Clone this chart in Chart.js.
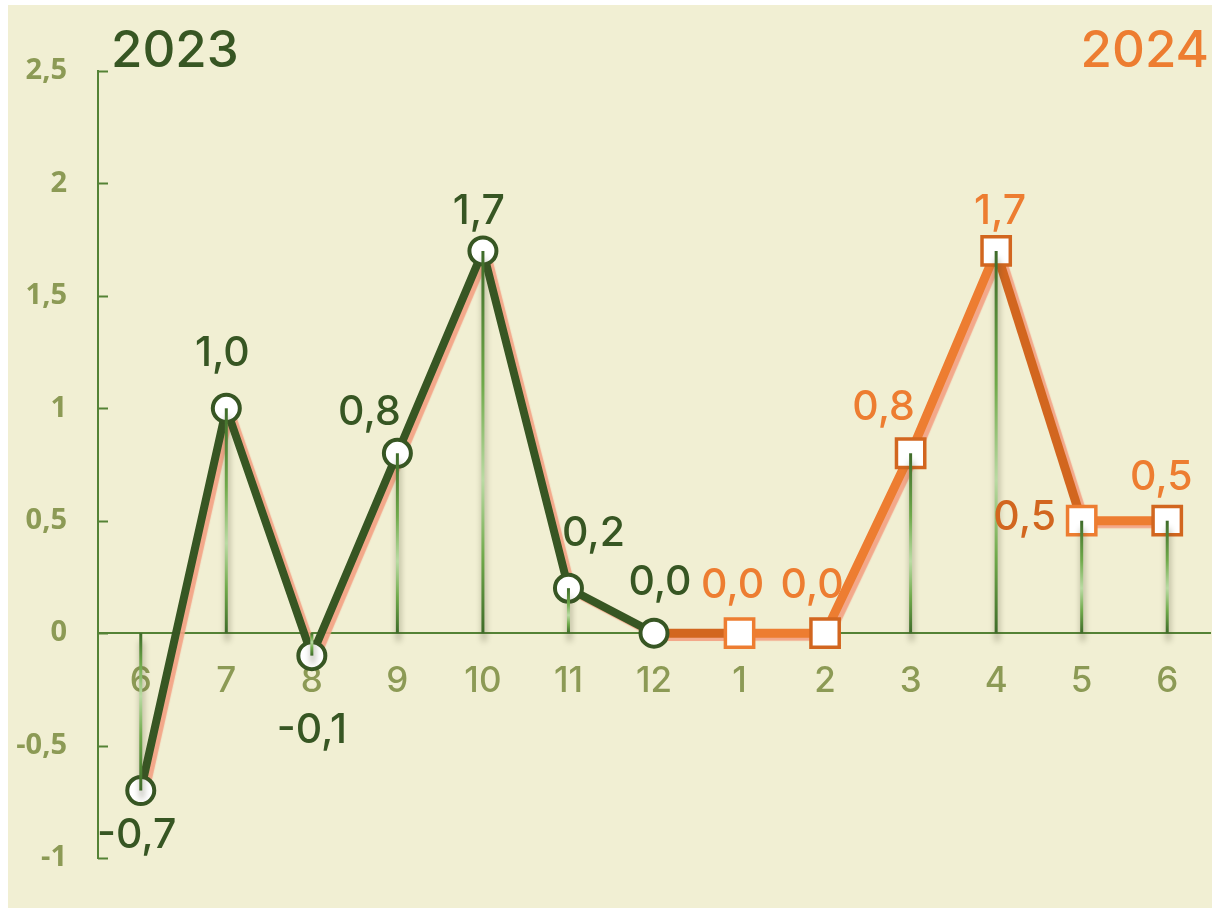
<!DOCTYPE html>
<html>
<head>
<meta charset="utf-8">
<script src="https://cdn.jsdelivr.net/npm/chart.js@4.4.1/dist/chart.umd.min.js"></script>
<style>
  html, body { margin: 0; padding: 0; background: #ffffff; }
  #wrap { position: relative; width: 1212px; height: 910px; }
</style>
</head>
<body>
<div id="wrap"><canvas id="myChart" width="1212" height="910"></canvas></div>
<script>
// months on the x axis (June 2023 .. June 2024)
const months = ['6', '7', '8', '9', '10', '11', '12', '1', '2', '3', '4', '5', '6'];

// 2023 series
const values2023 = [-0.7, 1.0, -0.1, 0.8, 1.7, 0.2, 0.0, null, null, null, null, null, null];

// 2024 series (starts at the December point so both lines join)
const values2024 = [null, null, null, null, null, null, 0.0, 0.0, 0.0, 0.8, 1.7, 0.5, 0.5];

// y axis tick values
const yTicks = [-1, -0.5, 0, 0.5, 1, 1.5, 2, 2.5];

// colours
const green = "#375623";
const orange = "#ED7D31";
const orangeDark = "#D2661F";
const olive = "#8C9A55";
const axisGreen = "#548235";
const cream = "#F1EFD3";

// orange line: colour of each segment and each square border
const orangeSegColors = [null, null, null, null, null, null, orangeDark, orange, orange, orange, orangeDark, orange];
const orangeBorders = [null, null, null, null, null, null, orange, orange, orangeDark, orangeDark, orangeDark, orange, orangeDark];

// data label nudges [dx, dy] relative to each marker
const labelNudge2023 = [[-4, 45], [-4, -55], [0, 75], [-28, -41], [-4, -39], [25, -54], [6, -50]];
const labelNudge2024 = {7: [-7, -47], 8: [-13, -47], 9: [-27, -46], 10: [4, -39], 11: [-57, -3], 12: [-6, -43]};
const labelColor2024 = {7: orange, 8: orange, 9: orange, 10: orange, 11: orangeDark, 12: orange};

const fmt = v => v.toFixed(1).replace('.', ',');

// cream panel behind everything
const backgroundPlugin = {
    id: 'panel',
    beforeDraw(chart) {
        const c = chart.ctx;
        c.save();
        c.fillStyle = cream;
        c.fillRect(8, 5, 1204, 903);
        c.restore();
    }
};

// salmon drop shadow under the line-only datasets
const shadowPlugin = {
    id: 'lineShadow',
    beforeDatasetDraw(chart, args) {
        const ds = chart.data.datasets[args.index];
        if (!ds.shadowColor) return;
        const c = chart.ctx;
        c.save();
        c.shadowColor = ds.shadowColor;
        c.shadowOffsetX = 4;
        c.shadowOffsetY = 3;
        c.shadowBlur = 1;
    },
    afterDatasetDraw(chart, args) {
        const ds = chart.data.datasets[args.index];
        if (ds.shadowColor) chart.ctx.restore();
    }
};

// green drop lines from each marker to the zero line
const dropLinePlugin = {
    id: 'dropLines',
    afterDatasetsDraw(chart) {
        const c = chart.ctx;
        const y0 = chart.scales.y.getPixelForValue(0);
        const greenMeta = chart.getDatasetMeta(3);
        const orangeMeta = chart.getDatasetMeta(2);
        months.forEach((m, i) => {
            const v = values2023[i] !== null ? values2023[i] : values2024[i];
            if (!v) return;
            const el = values2023[i] !== null ? greenMeta.data[i] : orangeMeta.data[i];
            const grad = c.createLinearGradient(0, el.y, 0, y0);
            grad.addColorStop(0, "#3E6B29");
            grad.addColorStop(0.35, "#6FAA4A");
            grad.addColorStop(0.6, "#BADBA3");
            grad.addColorStop(0.8, "#6FAA4A");
            grad.addColorStop(1, "#3E6B29");
            c.save();
            c.shadowColor = "rgba(70, 70, 40, 0.55)";
            c.shadowBlur = 6;
            c.shadowOffsetX = 1;
            c.shadowOffsetY = 8;
            c.strokeStyle = grad;
            c.lineWidth = 3;
            c.beginPath();
            c.moveTo(el.x, el.y);
            c.lineTo(el.x, y0);
            c.stroke();
            c.restore();
        });
    }
};

// value labels, titles and inner tick marks of the y axis
const labelPlugin = {
    id: 'labels',
    afterDatasetsDraw(chart) {
        const c = chart.ctx;
        const greenMeta = chart.getDatasetMeta(3);
        const orangeMeta = chart.getDatasetMeta(2);
        c.save();
        c.font = "500 41px Inter";
        c.textAlign = "center";
        c.textBaseline = "middle";

        labelNudge2023.forEach((n, i) => {
            const el = greenMeta.data[i];
            c.fillStyle = green;
            c.fillText(fmt(values2023[i]), el.x + n[0], el.y + n[1]);
        });
        Object.keys(labelNudge2024).forEach(k => {
            const i = +k;
            const el = orangeMeta.data[i];
            c.fillStyle = labelColor2024[i];
            c.fillText(fmt(values2024[i]), el.x + labelNudge2024[i][0], el.y + labelNudge2024[i][1]);
        });

        // year titles
        c.font = "500 51px Inter";
        c.textBaseline = "alphabetic";
        c.textAlign = "left";
        c.fillStyle = green;
        c.fillText("2023", 111, 67);
        c.textAlign = "right";
        c.fillStyle = orange;
        c.fillText("2024", 1209, 67);

        // short tick marks pointing into the plot
        const y = chart.scales.y;
        c.strokeStyle = axisGreen;
        c.lineWidth = 2;
        y.ticks.forEach(t => {
            const py = Math.round(y.getPixelForValue(t.value)) + 0.5;
            c.beginPath();
            c.moveTo(chart.chartArea.left, py);
            c.lineTo(chart.chartArea.left + 10, py);
            c.stroke();
        });
        c.restore();
    }
};

const ctx = document.getElementById('myChart').getContext('2d');

new Chart(ctx, {
    type: 'line',
    data: {
        labels: months,
        datasets: [
            {
                // 2024 line only
                data: values2024,
                borderColor: orange,
                borderWidth: 9,
                pointRadius: 0,
                shadowColor: "rgba(243, 160, 130, 0.9)",
                segment: {
                    borderColor: s => orangeSegColors[s.p0DataIndex] || orange
                },
                order: 4
            },
            {
                // 2023 line only
                data: values2023,
                borderColor: green,
                borderWidth: 8,
                pointRadius: 0,
                shadowColor: "rgba(243, 160, 130, 0.9)",
                order: 3
            },
            {
                // 2024 square markers
                data: values2024,
                showLine: false,
                pointStyle: 'rect',
                pointRadius: values2024.map((v, i) => (v === null || i === 6) ? 0 : 20),
                pointBackgroundColor: "#ffffff",
                pointBorderColor: orangeBorders,
                pointBorderWidth: 3.5,
                order: 2
            },
            {
                // 2023 circle markers
                data: values2023,
                showLine: false,
                pointStyle: 'circle',
                pointRadius: 13.5,
                pointBackgroundColor: "#ffffff",
                pointBorderColor: green,
                pointBorderWidth: 4,
                order: 1
            }
        ]
    },
    options: {
        responsive: false,
        animation: false,
        layout: {
            autoPadding: false,
            padding: { left: 0, right: 2, top: 71, bottom: 52 }
        },
        plugins: {
            legend: { display: false },
            tooltip: { enabled: false }
        },
        scales: {
            x: {
                position: { y: 0 },
                offset: true,
                afterFit: scale => {
                    scale.paddingLeft = 0;
                    scale.paddingRight = 0;
                },
                grid: { display: false, drawTicks: false },
                border: { display: true, color: axisGreen, width: 2 },
                ticks: {
                    color: olive,
                    padding: 27,
                    font: { family: "Inter", size: 35, weight: 500 }
                }
            },
            y: {
                min: -1,
                max: 2.5,
                afterBuildTicks: scale => {
                    scale.ticks = yTicks.map(v => ({ value: v }));
                },
                afterFit: scale => {
                    scale.width = 98;
                },
                grid: { display: false, drawTicks: false },
                border: { display: true, color: axisGreen, width: 2 },
                ticks: {
                    color: olive,
                    padding: 31,
                    font: { family: "Open Sans", size: 29, weight: "bold" },
                    callback: v => String(v).replace('.', ',')
                }
            }
        }
    },
    plugins: [backgroundPlugin, shadowPlugin, dropLinePlugin, labelPlugin]
});
</script>
</body>
</html>
